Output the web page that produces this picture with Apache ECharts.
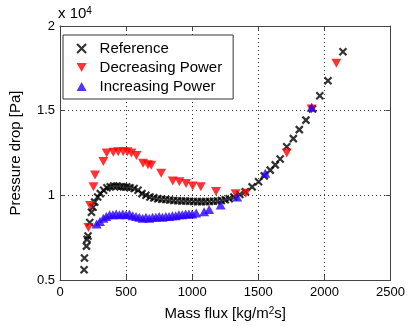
<!DOCTYPE html>
<html>
<head>
<meta charset="utf-8">
<script src="https://cdn.jsdelivr.net/npm/echarts@6/dist/echarts.min.js"></script>
<style>
  html, body { margin: 0; padding: 0; background: #fff; }
  #chart { width: 408px; height: 326px; }
</style>
</head>
<body>
<div id="chart"></div>
<script>
// Mass flux in kg/(m^2 s); pressure drop in units of 10^4 Pa
const refFlux = [182,185,200,205,212,225,238,250,262,285,305,330,355,380,405,430,455,480,505,530,560,590,620,650,680,710,740,770,800,830,860,890,920,950,980,1010,1040,1070,1100,1130,1160,1190,1220,1250,1280,1315,1360,1402,1453,1502,1545,1590,1628,1665,1715,1765,1810,1860,1910,1965,2027,2140];
const refDp = [0.56,0.63,0.70,0.74,0.76,0.84,0.90,0.93,0.96,0.99,1.01,1.03,1.045,1.05,1.055,1.055,1.05,1.05,1.05,1.045,1.04,1.03,1.01,1.0,0.99,0.985,0.98,0.977,0.975,0.972,0.97,0.968,0.967,0.966,0.965,0.964,0.963,0.963,0.963,0.964,0.965,0.967,0.97,0.974,0.98,0.99,1.005,1.021,1.05,1.08,1.115,1.149,1.18,1.215,1.287,1.335,1.388,1.444,1.51,1.588,1.677,1.848];

const decFlux = [215,228,253,265,328,353,403,440,478,510,540,578,628,665,690,765,853,903,953,1003,1065,1180,1328,1405,1715,1903,2090];
const decDp = [0.81,0.94,1.05,1.12,1.2,1.25,1.255,1.258,1.258,1.258,1.25,1.235,1.19,1.18,1.178,1.13,1.085,1.08,1.07,1.055,1.05,1.022,1.01,1.012,1.25,1.51,1.78];

const incFlux = [277,302,328,350,375,400,425,450,475,500,525,550,575,600,625,650,675,700,725,750,775,800,825,850,875,900,925,950,975,1000,1030,1090,1128,1215,1340,1553,1903];
const incDp = [0.83,0.845,0.865,0.875,0.885,0.885,0.89,0.885,0.89,0.885,0.89,0.88,0.875,0.87,0.865,0.87,0.865,0.87,0.87,0.875,0.87,0.875,0.875,0.88,0.88,0.885,0.885,0.89,0.89,0.89,0.895,0.903,0.917,0.943,0.99,1.13,1.52];

const xTicks = [0, 500, 1000, 1500, 2000, 2500];
const yTicks = [0.5, 1, 1.5, 2];

const seriesNames = ['Reference', 'Decreasing Power', 'Increasing Power'];

const pair = (xs, ys) => xs.map((x, i) => [x, ys[i]]);

// marker shapes
const crossIcon = 'path://M0,0L10,10M10,0L0,10';
const downIcon = 'path://M0,0L10,0L5,9Z';
const upIcon = 'path://M5,0L10,9L0,9Z';

const FONT = 'Liberation Sans, Arial, Helvetica, sans-serif';
const frameColor = '#444';

const xStep = xTicks[1] - xTicks[0];
const yStep = yTicks[1] - yTicks[0];

const gridLine = { show: true, lineStyle: { color: '#333', width: 1, type: [1, 3] } };
const tickIn = { show: true, inside: true, length: 5, lineStyle: { color: frameColor } };

const chart = echarts.init(document.getElementById('chart'), null, { renderer: 'canvas' });

chart.setOption({
  animation: false,
  backgroundColor: '#fff',
  textStyle: { fontFamily: FONT },
  grid: { left: 58, right: 17, top: 26, bottom: 46, containLabel: false },
  xAxis: [
    {
      type: 'value',
      min: xTicks[0], max: xTicks[xTicks.length - 1], interval: xStep,
      position: 'bottom',
      axisLine: { show: true, onZero: false, lineStyle: { color: frameColor, width: 1 } },
      axisTick: tickIn,
      axisLabel: { color: '#000', fontSize: 13, margin: 6, fontFamily: FONT, formatter: v => String(v) },
      splitLine: gridLine,
      name: 'Mass flux [kg/m{sup|2}s]',
      nameLocation: 'middle',
      nameGap: 26,
      nameTextStyle: {
        color: '#000', fontSize: 15, fontFamily: FONT,
        rich: { sup: { fontSize: 10, fontFamily: FONT, color: '#000', verticalAlign: 'top', lineHeight: 10 } }
      }
    },
    {
      type: 'value',
      min: xTicks[0], max: xTicks[xTicks.length - 1], interval: xStep,
      position: 'top',
      axisLine: { show: true, onZero: false, lineStyle: { color: frameColor, width: 1 } },
      axisTick: tickIn,
      axisLabel: { show: false },
      splitLine: { show: false }
    }
  ],
  yAxis: [
    {
      type: 'value',
      min: yTicks[0], max: yTicks[yTicks.length - 1], interval: yStep,
      position: 'left',
      axisLine: { show: true, onZero: false, lineStyle: { color: frameColor, width: 1 } },
      axisTick: tickIn,
      axisLabel: { color: '#000', fontSize: 13, margin: 5, fontFamily: FONT, formatter: v => String(v) },
      splitLine: gridLine,
      name: 'Pressure drop [Pa]',
      nameLocation: 'middle',
      nameGap: 37,
      nameTextStyle: { color: '#000', fontSize: 15, fontFamily: FONT }
    },
    {
      type: 'value',
      min: yTicks[0], max: yTicks[yTicks.length - 1], interval: yStep,
      position: 'right',
      axisLine: { show: true, onZero: false, lineStyle: { color: frameColor, width: 1 } },
      axisTick: tickIn,
      axisLabel: { show: false },
      splitLine: { show: false }
    }
  ],
  legend: {
    orient: 'vertical',
    left: 63, top: 35,
    padding: [6, 11, 5, 13],
    itemGap: 4,
    itemWidth: 18, itemHeight: 9,
    backgroundColor: '#fff',
    borderColor: '#333', borderWidth: 1, borderRadius: 0,
    textStyle: { color: '#000', fontSize: 15, fontFamily: FONT, padding: [0, 0, 0, 4] },
    data: [
      { name: seriesNames[0], icon: crossIcon, itemStyle: { color: '#000', borderColor: '#000', borderWidth: 2.2 } },
      { name: seriesNames[1], icon: downIcon },
      { name: seriesNames[2], icon: upIcon }
    ]
  },
  graphic: [
    {
      type: 'text', left: 58, top: 6,
      style: {
        text: 'x 10{sup|4}',
        fontSize: 15, fontFamily: FONT, fill: '#000',
        rich: { sup: { fontSize: 10, fontFamily: FONT, fill: '#000', verticalAlign: 'top', lineHeight: 10 } }
      }
    }
  ],
  series: [
    {
      name: seriesNames[0], type: 'scatter',
      data: pair(refFlux, refDp),
      symbol: crossIcon, symbolSize: 7,
      itemStyle: { color: '#000', borderColor: '#000', borderWidth: 2.2 },
      z: 2
    },
    {
      name: seriesNames[1], type: 'scatter',
      data: pair(decFlux, decDp),
      symbol: downIcon, symbolSize: [10, 9],
      itemStyle: { color: '#ff0000' },
      z: 3
    },
    {
      name: seriesNames[2], type: 'scatter',
      data: pair(incFlux, incDp),
      symbol: upIcon, symbolSize: [10, 9],
      itemStyle: { color: '#2a00ff' },
      z: 4
    }
  ]
});
</script>
</body>
</html>
